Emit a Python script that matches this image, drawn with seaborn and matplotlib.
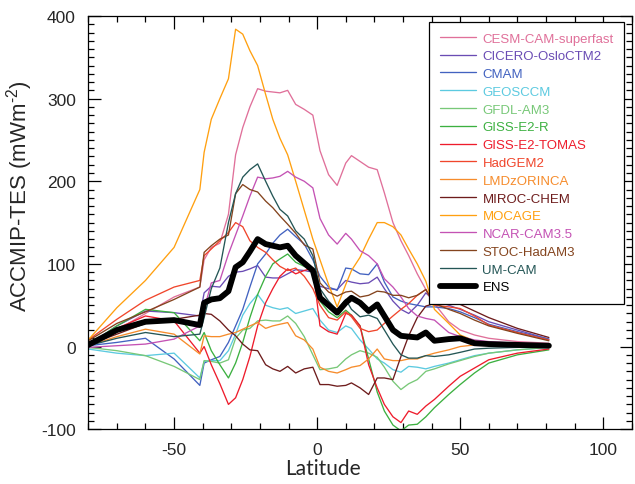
import matplotlib
matplotlib.use("Agg")
import matplotlib.pyplot as plt
import seaborn as sns
from matplotlib.ticker import MultipleLocator

# Latitude grid (degrees)
LAT = [-80, -70, -60, -50,
       -41, -39.5, -37, -34, -31,
       -28.5, -26, -23.5, -20.8, -18,
       -15.5, -13, -10.3, -7.5, -4.5,
       -1.5, 1, 4, 7, 10,
       12, 15, 18, 21, 23.5,
       26.5, 29.3, 32, 35, 38,
       41, 46, 50, 55, 60,
       70, 81]

CESM = [5, 20, 40, 60,
        72, 105, 120, 125, 160,
        232, 265, 290, 312, 309,
        308, 307, 310, 293, 287,
        280, 237, 208, 195, 222,
        231, 224, 217, 214, 186,
        150, 128, 110, 88, 69,
        52, 30, 20, 14, 10,
        6, 4]
CICERO = [2, 25, 43, 41,
          37, 65, 73, 72, 85,
          90, 91, 94, 98, 84,
          83, 83, 88, 93, 92,
          90, 73, 70, 69, 80,
          78, 76, 77, 84, 70,
          55, 45, 40, 50, 65,
          55, 50, 45, 38, 30,
          20, 9]
CMAM = [1, 5, 10, -15,
        -47, -20, -16, -12, 5,
        25, 45, 72, 100, 112,
        125, 135, 142, 133, 124,
        105, 85, 72, 68, 95,
        94, 88, 87, 100, 78,
        60, 55, 52, 50, 48,
        48, 46, 42, 35, 27,
        18, 9]
GEOSCCM = [-3, -8, -11, -8,
           -38, -18, -17, -17, -5,
           15, 38, 52, 63, 50,
           47, 45, 47, 40, 43,
           46, 32, 20, 17, 25,
           22, 8, -3, -15, -20,
           -28, -31, -24, -25, -27,
           -24, -20, -16, -11, -8,
           -4, -1]
GFDL = [-1, -5, -11, -24,
        -40, -17, -18, -20, -16,
        10, 20, 22, 31, 32,
        31, 31, 37, 28, 12,
        -10, -28, -27, -25, -15,
        -10, -5, -8, -13, -25,
        -42, -52, -45, -40, -30,
        -27, -21, -17, -12, -8,
        -4, -1]
GISS_R = [2, 25, 45, 41,
          7, 17, -5, -22, -38,
          -20, 5, 35, 63, 85,
          100, 106, 112, 102, 97,
          92, 55, 42, 35, 44,
          38, 25, -15, -55, -78,
          -95, -102, -95, -94, -85,
          -74, -58, -46, -32, -20,
          -10, -4]
GISS_TOMAS = [3, 22, 37, 31,
              -8, 0, -22, -45, -70,
              -62, -40, -12, 25, 53,
              70, 85, 94, 88, 92,
              95, 25, 18, 15, 40,
              38, 25, -22, -50, -70,
              -85, -92, -78, -82, -72,
              -64, -48, -36, -26, -16,
              -8, -3]
HADGEM2 = [8, 33, 56, 72,
           80, 110, 118, 128, 138,
           150, 145, 128, 120, 114,
           105, 97, 92, 95, 85,
           70, 50, 35, 32, 42,
           36, 22, 18, 20, 28,
           37, 45, 52, 62, 69,
           50, 48, 46, 37, 26,
           17, 8]
LMDZ = [1, 12, 21, 15,
        -9, 13, 12, 12, 15,
        17, 21, 25, 29, 22,
        25, 27, 29, 13, 8,
        -3, -25, -30, -32, -28,
        -25, -23, -15, -3, -15,
        -17, -17, -15, -15, -11,
        -8, -4, 0, 2, 2,
        1, 0]
MIROC = [2, 15, 28, 33,
         38, 40, 39, 31, 20,
         13, 3, -4, -5, -22,
         -27, -30, -24, -32, -27,
         -25, -46, -46, -48, -47,
         -44, -50, -58, -38, -38,
         -40, -12, 13, 35, 49,
         52, 55, 51, 43, 35,
         22, 11]
MOCAGE = [8, 47, 80, 120,
          190, 235, 275, 300, 324,
          384, 378, 358, 340, 305,
          275, 252, 232, 200, 165,
          130, 105, 75, 48, 75,
          92, 108, 130, 150, 150,
          145, 135, 118, 100, 79,
          45, 28, 14, 7, 4,
          2, 1]
NCAR = [-1, 1, 3, 9,
        25, 45, 77, 80, 112,
        135, 158, 182, 205, 203,
        204, 206, 212, 205, 200,
        192, 155, 135, 124, 137,
        130, 116, 110, 100, 82,
        72, 60, 46, 37, 34,
        32, 17, 12, 8, 6,
        4, 3]
STOC = [7, 28, 42, 57,
        72, 114, 122, 130, 135,
        185, 196, 190, 187, 176,
        168, 158, 148, 137, 123,
        118, 77, 66, 61, 66,
        67, 60, 62, 67, 66,
        62, 62, 59, 62, 69,
        52, 45, 40, 32, 25,
        16, 7]
UMCAM = [1, 10, 17, 12,
         15, 35, 70, 95, 150,
         185, 205, 214, 221, 200,
         182, 166, 158, 140, 130,
         110, 70, 55, 44, 57,
         45, 36, 38, 34, 20,
         3, -10, -14, -14, -11,
         -12, -10, -7, -3, -2,
         -1, 0]
ENS = [2, 20, 30, 32,
       26, 53, 57, 58.5, 67,
       96, 102, 115, 130, 124,
       122, 120, 122, 110, 101,
       92, 59, 50, 41, 53,
       59, 53, 43, 51, 37,
       20, 13, 12, 11, 17,
       7, 9, 10, 4, 3,
       2, 1]

MODEL_NAMES = ["CESM-CAM-superfast", "CICERO-OsloCTM2", "CMAM", "GEOSCCM",
               "GFDL-AM3", "GISS-E2-R", "GISS-E2-TOMAS", "HadGEM2",
               "LMDzORINCA", "MIROC-CHEM", "MOCAGE", "NCAR-CAM3.5",
               "STOC-HadAM3", "UM-CAM"]
MODEL_VALUES = [CESM, CICERO, CMAM, GEOSCCM, GFDL, GISS_R, GISS_TOMAS, HADGEM2,
                LMDZ, MIROC, MOCAGE, NCAR, STOC, UMCAM]
COLORS = ["#e0709a", "#6a4cb4", "#4262c0", "#5ccae0", "#78c878", "#3cb040",
          "#ee1c2c", "#f0462c", "#f68c2c", "#6e1c1c", "#ffa010", "#c452b4",
          "#84441e", "#245656"]

sns.set_style("ticks")
plt.rcParams['font.family'] = ['Liberation Sans', 'DejaVu Sans']
plt.rcParams['axes.linewidth'] = 0.9
plt.rcParams['axes.unicode_minus'] = False
plt.rcParams['mathtext.fontset'] = 'custom'
plt.rcParams['mathtext.rm'] = 'Liberation Sans'

fig, ax = plt.subplots(figsize=(6.35, 4.85), dpi=100)
fig.subplots_adjust(left=0.139, right=0.995, bottom=0.113, top=0.965)

for name, vals, col in zip(MODEL_NAMES, MODEL_VALUES, COLORS):
    sns.lineplot(x=LAT, y=vals, color=col, lw=0.95, label=name, ax=ax,
                 sort=False, estimator=None)
sns.lineplot(x=LAT, y=ENS, color="black", lw=4.2, label="ENS", ax=ax,
             sort=False, estimator=None)

ax.set_xlim(-80, 110)
ax.set_ylim(-100, 400)
ax.xaxis.set_major_locator(MultipleLocator(50))
ax.xaxis.set_minor_locator(MultipleLocator(10))
ax.yaxis.set_major_locator(MultipleLocator(100))
ax.yaxis.set_minor_locator(MultipleLocator(10))
ax.tick_params(which='both', direction='in', top=True, right=True,
               color='black', width=0.9)
ax.tick_params(which='major', length=9, labelsize=12.5, pad=9)
ax.tick_params(which='minor', length=4.5)
for s in ax.spines.values():
    s.set_color('black')

ax.set_xlabel("Latitude", fontsize=15, family=['Lato', 'DejaVu Sans'])
ax.set_ylabel("ACCMIP-TES (mWm$^{\\text{-2}}$)", fontsize=16)
ax.xaxis.set_label_coords(0.432, -0.07)
ax.yaxis.set_label_coords(-0.098, 0.565)

leg = ax.legend(loc='upper right', bbox_to_anchor=(0.986, 0.986),
                borderaxespad=0, frameon=True, fancybox=False,
                edgecolor='black', framealpha=1, fontsize=9.5,
                handlelength=2.8, handletextpad=0.45, labelspacing=0.42,
                borderpad=0.8)
leg.get_frame().set_linewidth(0.9)
for txt, line in zip(leg.get_texts(), leg.get_lines()):
    txt.set_color(line.get_color())

fig.savefig("out.png", dpi=100)
